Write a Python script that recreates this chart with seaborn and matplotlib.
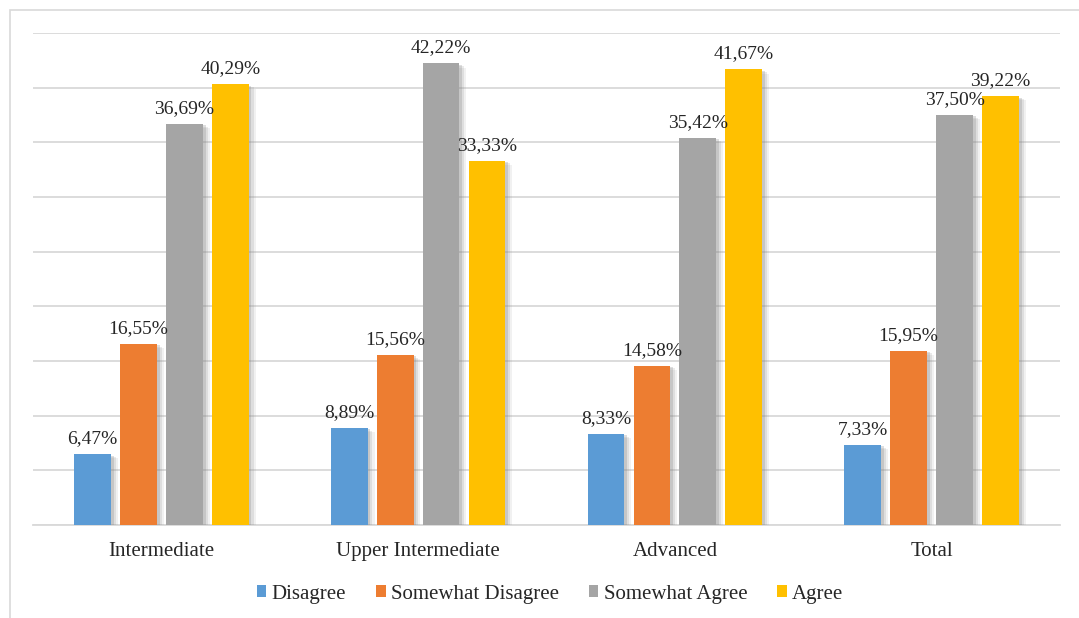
import matplotlib
matplotlib.use("Agg")
import matplotlib.pyplot as plt
import matplotlib.patheffects as pe
from matplotlib.patches import Rectangle
import seaborn as sns
import pandas as pd

levels = ["Intermediate", "Upper Intermediate", "Advanced", "Total"]
responses = ["Disagree", "Somewhat Disagree", "Somewhat Agree", "Agree"]
disagree = [6.47, 8.89, 8.33, 7.33]
somewhat_disagree = [16.55, 15.56, 14.58, 15.95]
somewhat_agree = [36.69, 42.22, 35.42, 37.50]
agree = [40.29, 33.33, 41.67, 39.22]
colors = ["#5B9BD5", "#ED7D31", "#A5A5A5", "#FFC000"]

series = [disagree, somewhat_disagree, somewhat_agree, agree]
rows = []
for resp, vals in zip(responses, series):
    for lvl, v in zip(levels, vals):
        rows.append({"level": lvl, "response": resp, "value": v})
df = pd.DataFrame(rows)

sns.set_theme(style="white")
plt.rcParams["font.family"] = ["Liberation Serif", "DejaVu Serif"]

fig = plt.figure(figsize=(10.79, 6.18), dpi=100)
ax = fig.add_axes([33 / 1079, 1 - 525 / 618, (1060 - 33) / 1079, (525 - 33) / 618])

# light outer frame around the chart area
fig.patches.append(Rectangle((10 / 1079, -0.05), 1.2, 1 - 10 / 618 + 0.05,
                             transform=fig.transFigure, fill=False,
                             edgecolor="#d9d9d9", linewidth=1.2, zorder=0))

sns.barplot(data=df, x="level", y="value", hue="response", order=levels,
            hue_order=responses, palette=colors, width=0.716, gap=0.2,
            saturation=1, ax=ax, legend=False, zorder=3)

# soft drop shadow built from a few stacked offsets
shadow = [pe.SimplePatchShadow(offset=(5, -3), shadow_rgbFace="#8c8c8c", alpha=0.12),
          pe.SimplePatchShadow(offset=(3.5, -2), shadow_rgbFace="#8c8c8c", alpha=0.18),
          pe.SimplePatchShadow(offset=(2, -1), shadow_rgbFace="#7f7f7f", alpha=0.25),
          pe.Normal()]
for cont in ax.containers:
    for bar in cont:
        bar.set_path_effects(shadow)
        bar.set_edgecolor("none")
    ax.bar_label(cont, labels=[f"{b.get_height():.2f}".replace(".", ",") + "%" for b in cont],
                 padding=5, fontsize=14, color="#262626")

ax.set_ylim(0, 45)
ax.set_yticks(range(0, 46, 5))
ax.set_yticklabels([])
ax.yaxis.grid(True, color="#d9d9d9", linewidth=1.3)
ax.set_axisbelow(True)
ax.set_xlim(-0.5, 3.5)
ax.set_xlabel("")
ax.set_ylabel("")
for s in ["top", "right", "left"]:
    ax.spines[s].set_visible(False)
ax.spines["bottom"].set_color("#d9d9d9")
ax.spines["bottom"].set_linewidth(1.3)
ax.tick_params(axis="x", length=0, pad=12, labelsize=15, labelcolor="#262626")
ax.tick_params(axis="y", length=0)

handles = [Rectangle((0, 0), 1, 1, facecolor=c, edgecolor="none") for c in colors]
fig.legend(handles, responses, loc="center", bbox_to_anchor=(550 / 1079, 1 - 594 / 618),
           ncol=4, frameon=False, fontsize=15, handlelength=0.45, handleheight=0.5,
           handletextpad=0.25, columnspacing=1.45, labelcolor="#262626")

fig.savefig("out.png", dpi=100, facecolor="white")
